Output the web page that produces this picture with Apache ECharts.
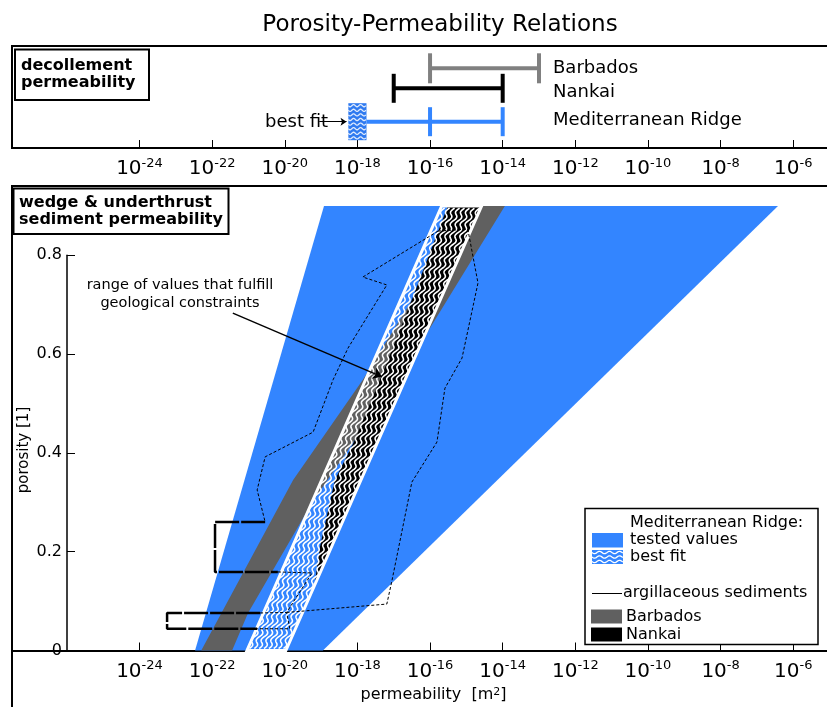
<!DOCTYPE html>
<html>
<head>
<meta charset="utf-8">
<script src="https://cdn.jsdelivr.net/npm/echarts@6/dist/echarts.min.js"></script>
<style>
html,body{margin:0;padding:0;background:#fff;}
#chart{width:827px;height:707px;}
</style>
</head>
<body>
<div id="chart"></div>
<script>
// ---- permeability axis: exponents of 10 (m^2) ----
const decadeTicks = [-24, -22, -20, -18, -16, -14, -12, -10, -8, -6];
const porosityTicks = [0, 0.2, 0.4, 0.6, 0.8];

// ---- decollement permeability ranges, log10(k) ----
const decollementSites = ['Barbados', 'Nankai', 'Mediterranean Ridge'];
const decollementLow = [-16, -17, -16];
const decollementHigh = [-13, -14, -14];
const medRidgeBestFit = -18;

// ---- wedge & underthrust sediments: [log10(k), porosity] ----
const testedLeft = [[-22.47, 0], [-18.92, 0.9]];
const testedRight = [[-18.95, 0], [-6.42, 0.9]];
const barbadosLeft = [[-22.3, 0], [-19.77, 0.345], [-17.85, 0.548], [-14.9, 0.9]];
const barbadosRight = [[-21.45, 0], [-21.01, 0.076], [-19.25, 0.299], [-18.07, 0.426], [-16.08, 0.643], [-13.94, 0.9]];
const bestFitLeft = [[-21.04, 0], [-15.68, 0.9]];
const bestFitRight = [[-19.97, 0], [-14.58, 0.9]];
const nankaiLeft = [[-15.51, 0.9], [-16.5, 0.71], [-17.3, 0.562], [-18.07, 0.426], [-18.62, 0.345], [-19.03, 0.21], [-19.18, 0.133]];
const nankaiRight = [[-19.18, 0.133], [-14.58, 0.9]];

// argillaceous sediments envelope
const argTop = [[-15.78, 0.849], [-14.96, 0.853]];
const argLeft = [[-15.78, 0.849], [-17.85, 0.756], [-17.19, 0.740], [-18.26, 0.612], [-18.67, 0.548], [-19.22, 0.442], [-20.54, 0.392], [-20.76, 0.325], [-20.54, 0.260]];
const argRight = [[-14.96, 0.853], [-14.68, 0.744], [-15.12, 0.592], [-15.59, 0.531], [-15.81, 0.422], [-16.50, 0.341], [-17.05, 0.141], [-17.19, 0.094], [-19.95, 0.077]];
const argUpperBracket = [[-20.54, 0.260], [-21.92, 0.260], [-21.92, 0.159], [-20.19, 0.159]];
const argUpperLink = [[-20.19, 0.159], [-19.25, 0.157], [-19.95, 0.077]];
const argLowerBracket = [[-20.68, 0.076], [-23.24, 0.076], [-23.24, 0.044], [-20.76, 0.044]];
const argLowerLink = [[-20.68, 0.076], [-19.95, 0.077], [-19.86, 0.044], [-20.76, 0.044]];

// ---- styling ----
const FONT = 'DejaVu Sans';
const BLUE = '#3385ff';
const DARKGRAY = '#606060';
const MIDGRAY = '#808080';
const XMIN = -27.51, XMAX = -4.52;

const chart = echarts.init(document.getElementById('chart'), null, {renderer: 'canvas'});

function expLabel(v) { return '{b|10}{s|' + v + '}'; }
const expRich = {
  b: {fontSize: 20, fontFamily: FONT, color: '#000', lineHeight: 24},
  s: {fontSize: 13, fontFamily: FONT, color: '#000', verticalAlign: 'top', lineHeight: 14}
};

function permAxis(gridIndex) {
  return {
    type: 'value', gridIndex: gridIndex, min: XMIN, max: XMAX,
    axisLine: {show: true, onZero: false, lineStyle: {color: '#000', width: 2}},
    axisTick: {show: true, inside: true, length: 8, customValues: decadeTicks, lineStyle: {color: '#000', width: 1}},
    axisLabel: {customValues: decadeTicks, formatter: expLabel, rich: expRich, margin: 9},
    splitLine: {show: false}
  };
}

// wavy polyline running from (x0,y0) to (x1,y1) with a sideways (ox,oy) wobble
function wave(x0, y0, x1, y1, amp, wl, ox, oy) {
  const L = Math.hypot(x1 - x0, y1 - y0);
  const pts = [];
  for (let s = 0; s <= L; s += 0.7) {
    const t = s / L;
    const w = amp * Math.sin(2 * Math.PI * s / wl);
    pts.push([x0 + t * (x1 - x0) + w * ox, y0 + t * (y1 - y0) + w * oy]);
  }
  return pts;
}

function polygonSeries(name, pts, fill, z) {
  return {
    type: 'custom', name: name, xAxisIndex: 1, yAxisIndex: 1, z: z, silent: true, data: [0],
    renderItem: function (params, api) {
      return {type: 'polygon', shape: {points: pts.map(function (q) { return api.coord(q); })}, style: {fill: fill}};
    }
  };
}

function dashed(name, pts, width, dash, z) {
  return {
    type: 'line', name: name, xAxisIndex: 1, yAxisIndex: 1, z: z, silent: true,
    data: pts, symbol: 'none', animation: false,
    lineStyle: {color: '#000', width: width, type: dash}
  };
}

// rows of the decollement panel (pixels from panel top)
const rowOffset = [22.3, 42.3, 75.7];
const capHeight = [30, 29, 29];
const decoColors = [MIDGRAY, '#000', BLUE];

const series = [];

// decollement ranges
series.push({
  type: 'custom', name: 'decollement', xAxisIndex: 0, yAxisIndex: 0, z: 5, silent: true,
  data: decollementSites.map(function (s, i) { return [decollementLow[i], decollementHigh[i], i]; }),
  renderItem: function (params, api) {
    const i = api.value(2);
    const lo = api.value(0), hi = api.value(1);
    const y = api.coord([0, rowOffset[i]])[1];
    const h = capHeight[i];
    const c = decoColors[i];
    const children = [];
    const pLo = api.coord([lo, rowOffset[i]]);
    const pHi = api.coord([hi, rowOffset[i]]);
    let xStart = pLo[0];
    if (i === 2) {
      // best-fit box and line reaching the tested range
      const b0 = api.coord([medRidgeBestFit - 0.25, rowOffset[i]])[0];
      const b1 = api.coord([medRidgeBestFit + 0.25, rowOffset[i]])[0];
      xStart = b1;
      children.push({type: 'rect', shape: {x: b0, y: y - 18.5, width: b1 - b0, height: 37}, style: {fill: '#2f7af0'}});
      for (let k = 0; k < 8; k++) {
        const yy = y - 16 + k * 4.6;
        children.push({type: 'polyline', shape: {points: wave(b0, yy, b1, yy, 1.1, 7, 0, 1)}, style: {stroke: 'rgba(255,255,255,0.85)', lineWidth: 1.3, fill: null}});
      }
    }
    children.push({type: 'line', shape: {x1: xStart, y1: y, x2: pHi[0], y2: y}, style: {stroke: c, lineWidth: 4}});
    children.push({type: 'line', shape: {x1: pLo[0], y1: y - h / 2, x2: pLo[0], y2: y + h / 2}, style: {stroke: c, lineWidth: 4}});
    children.push({type: 'line', shape: {x1: pHi[0], y1: y - h / 2, x2: pHi[0], y2: y + h / 2}, style: {stroke: c, lineWidth: 4}});
    return {type: 'group', children: children};
  }
});

// "best fit" pointer in the decollement panel
series.push({
  type: 'lines', coordinateSystem: 'cartesian2d', xAxisIndex: 0, yAxisIndex: 0, z: 6, silent: true,
  symbol: ['none', 'arrow'], symbolSize: 6,
  lineStyle: {color: '#000', width: 1, opacity: 1},
  data: [{coords: [[medRidgeBestFit - 1.05, rowOffset[2]], [medRidgeBestFit - 0.3, rowOffset[2]]]}]
});

// wedge & underthrust panel
series.push(polygonSeries('tested values', [testedLeft[0], testedRight[0], testedRight[1], testedLeft[1]], BLUE, 2));
series.push(polygonSeries('Barbados', barbadosLeft.concat(barbadosRight.slice().reverse()), DARKGRAY, 3));
series.push(polygonSeries('Nankai', nankaiLeft.concat(nankaiRight), '#000', 4));

// best fit band: white wavy hatching with white outline
series.push({
  type: 'custom', name: 'best fit', xAxisIndex: 1, yAxisIndex: 1, z: 5, silent: true, data: [0],
  renderItem: function (params, api) {
    const L0 = api.coord(bestFitLeft[0]), L1 = api.coord(bestFitLeft[1]);
    const R0 = api.coord(bestFitRight[0]), R1 = api.coord(bestFitRight[1]);
    const n = 8;
    const children = [];
    for (let i = 0; i < n; i++) {
      const f = (i + 0.5) / n;
      const bx = L0[0] + f * (R0[0] - L0[0]), by = L0[1] + f * (R0[1] - L0[1]);
      const tx = L1[0] + f * (R1[0] - L1[0]), ty = L1[1] + f * (R1[1] - L1[1]);
      children.push({type: 'polyline', shape: {points: wave(bx, by - 2, tx, ty + 2, 1.8, 13, 1, 0)}, style: {stroke: '#fff', lineWidth: 1.6, fill: null}});
    }
    children.push({type: 'polygon', shape: {points: [L0, R0, R1, L1]}, style: {fill: null, stroke: '#fff', lineWidth: 3}});
    return {type: 'group', children: children};
  }
});

// argillaceous sediments
series.push(dashed('arg-top', argTop, 1, [3, 2], 8));
series.push(dashed('arg-left', argLeft, 1, [3, 2], 8));
series.push(dashed('arg-right', argRight, 1, [3, 2], 8));
series.push(dashed('arg-upper-link', argUpperLink, 1, [3, 2], 8));
series.push(dashed('arg-lower-link', argLowerLink, 1, [3, 2], 8));
series.push(dashed('arg-upper', argUpperBracket, 2.5, [24, 2], 8));
series.push(dashed('arg-lower', argLowerBracket, 2.5, [24, 2], 8));

// annotation arrow
series.push({
  type: 'lines', coordinateSystem: 'cartesian2d', xAxisIndex: 1, yAxisIndex: 1, z: 9, silent: true,
  symbol: ['none', 'arrow'], symbolSize: 9,
  lineStyle: {color: '#000', width: 1.5, opacity: 1},
  data: [{coords: [[-21.43, 0.683], [-17.32, 0.554]]}]
});

// legend swatch for best fit
function legendWaves(x, y, w, h, n) {
  const els = [{type: 'rect', z: 101, shape: {x: x, y: y, width: w, height: h}, style: {fill: BLUE}}];
  for (let k = 0; k < n; k++) {
    const yy = y + 2.5 + k * (h - 5) / (n - 1);
    els.push({type: 'polyline', z: 102, shape: {points: wave(x, yy, x + w, yy, 1.2, 10, 0, 1)}, style: {stroke: '#fff', lineWidth: 1.3, fill: null}});
  }
  return els;
}

function txt(x, y, text, size, opts) {
  return {type: 'text', z: 100, x: x, y: y, style: Object.assign({text: text, fontFamily: FONT, fontSize: size, fill: '#000', textAlign: 'left', textVerticalAlign: 'middle'}, opts || {})};
}

const graphics = [
  // panel frames
  {type: 'rect', z: 100, shape: {x: 12, y: 46, width: 900, height: 102}, style: {fill: null, stroke: '#000', lineWidth: 2}},
  {type: 'rect', z: 100, shape: {x: 12, y: 186, width: 900, height: 600}, style: {fill: null, stroke: '#000', lineWidth: 2}},
  // title
  txt(440, 25, 'Porosity-Permeability Relations', 23, {textAlign: 'center'}),
  // panel labels
  {type: 'rect', z: 100, shape: {x: 15, y: 49.5, width: 134, height: 50.5}, style: {fill: '#fff', stroke: '#000', lineWidth: 2}},
  txt(21, 66, 'decollement', 16, {fontWeight: 'bold'}),
  txt(21, 82.5, 'permeability', 16, {fontWeight: 'bold'}),
  {type: 'rect', z: 100, shape: {x: 13.5, y: 188.5, width: 215, height: 45.5}, style: {fill: '#fff', stroke: '#000', lineWidth: 2}},
  txt(19, 203, 'wedge & underthrust', 16, {fontWeight: 'bold'}),
  txt(19, 219.5, 'sediment permeability', 16, {fontWeight: 'bold'}),
  // decollement labels
  txt(553, 68.5, decollementSites[0], 18),
  txt(553, 92, decollementSites[1], 18),
  txt(553, 120.5, decollementSites[2], 18),
  txt(265, 122, 'best fit', 18),
  // annotation
  txt(180, 285, 'range of values that fulfill', 14.5, {textAlign: 'center'}),
  txt(180, 303, 'geological constraints', 14.5, {textAlign: 'center'}),
  // y axis name
  {type: 'text', z: 100, x: 24, y: 450, rotation: Math.PI / 2,
    style: {text: 'porosity [1]', fontFamily: FONT, fontSize: 15, fill: '#000', textAlign: 'center', textVerticalAlign: 'middle'}},
  // legend
  {type: 'rect', z: 100, shape: {x: 585, y: 508.5, width: 233, height: 136}, style: {fill: '#fff', stroke: '#000', lineWidth: 1.5}},
  txt(630, 522.5, 'Mediterranean Ridge:', 16),
  {type: 'rect', z: 101, shape: {x: 592, y: 533, width: 31, height: 14.5}, style: {fill: BLUE}},
  txt(630, 540, 'tested values', 16),
  {type: 'group', z: 101, children: legendWaves(592, 550, 31, 14, 3)},
  txt(630, 557, 'best fit', 16),
  {type: 'line', z: 101, shape: {x1: 592, y1: 593.5, x2: 622, y2: 593.5}, style: {stroke: '#000', lineWidth: 1}},
  txt(623, 593, 'argillaceous sediments', 16),
  {type: 'rect', z: 101, shape: {x: 591, y: 609.5, width: 31, height: 14}, style: {fill: DARKGRAY}},
  txt(626, 617, 'Barbados', 16),
  {type: 'rect', z: 101, shape: {x: 591, y: 627.5, width: 31, height: 14}, style: {fill: '#000'}},
  txt(626, 635, 'Nankai', 16)
];

const option = {
  animation: false,
  backgroundColor: '#fff',
  grid: [
    {left: 12, top: 46, width: 835, height: 102, outerBoundsMode: 'none'},
    {left: 12, top: 186.14, width: 835, height: 464.36, outerBoundsMode: 'none'},
    {left: 67, top: 255.3, width: 20, height: 395.2, outerBoundsMode: 'none'}
  ],
  xAxis: [
    permAxis(0),
    Object.assign(permAxis(1), {
      name: 'permeability  [m{s|2}]', nameLocation: 'middle', nameGap: 33,
      nameTextStyle: {fontFamily: FONT, fontSize: 16, color: '#000', padding: [0, 0, 0, 8],
        rich: {s: {fontSize: 11, fontFamily: FONT, verticalAlign: 'top', color: '#000'}}}
    }),
    {type: 'value', gridIndex: 2, min: 0, max: 1, show: false}
  ],
  yAxis: [
    {type: 'value', gridIndex: 0, min: 0, max: 102, inverse: true, show: false},
    {type: 'value', gridIndex: 1, min: 0, max: 0.94, show: false},
    {
      type: 'value', gridIndex: 2, min: 0, max: 0.8, interval: 0.2,
      axisLine: {show: true, lineStyle: {color: '#000', width: 1.5}},
      axisTick: {show: true, inside: true, length: 8, customValues: porosityTicks, lineStyle: {color: '#000', width: 1}},
      axisLabel: {customValues: porosityTicks, fontFamily: FONT, fontSize: 16, color: '#000', margin: 5,
        formatter: function (v) { return v === 0 ? '0' : v.toFixed(1); }},
      splitLine: {show: false}
    }
  ],
  graphic: {elements: graphics},
  series: series
};

chart.setOption(option);
</script>
</body>
</html>
